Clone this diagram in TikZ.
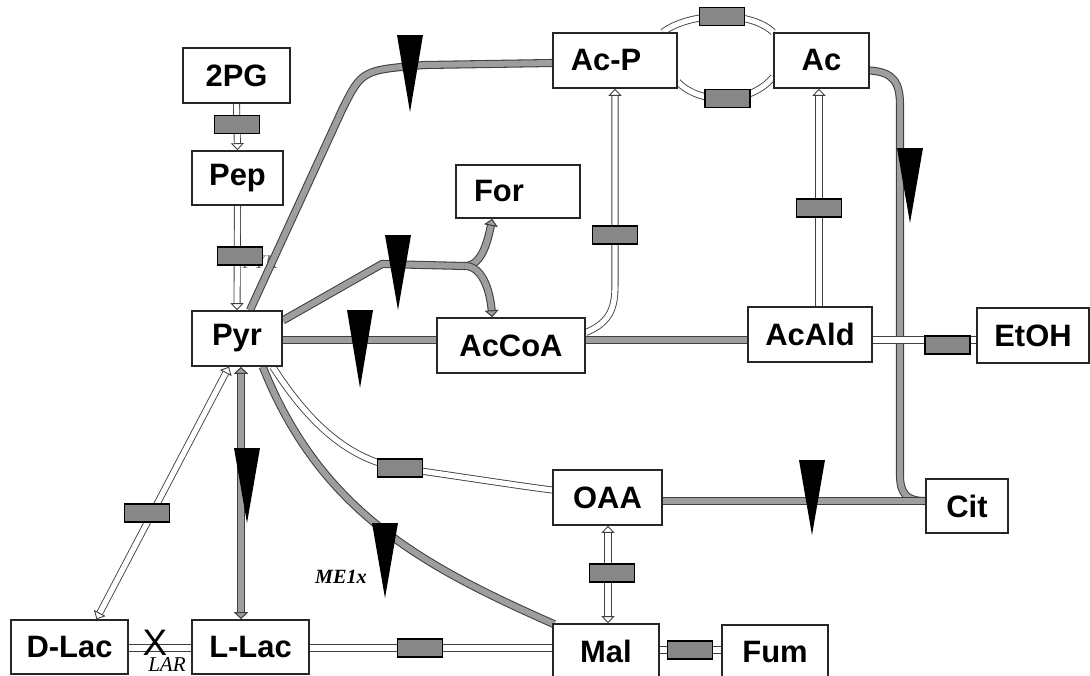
\documentclass[tikz,border=0pt]{standalone}
\usepackage{fontspec}
\setmainfont{Liberation Serif}
\setsansfont{Liberation Sans}
\usetikzlibrary{arrows.meta,calc}
\pgfdeclarelayer{pipes}
\pgfsetlayers{pipes,main}
\begin{document}
\begin{tikzpicture}[x=0.02cm,y=-0.02cm,
  met/.style={draw=black!85, line width=0.9pt, fill=white, inner sep=0pt,
    font=\sffamily\bfseries\fontsize{17.6}{20}\selectfont},
  gpipe/.style={draw=black!75, line width=0.6pt, double=black!38, double distance=3.4pt},
  wpipe/.style={draw=black!75, line width=0.5pt, double=white, double distance=3pt},
  enz/.style={draw=black, line width=0.8pt, fill=black!47, minimum width=0.9cm,
    minimum height=0.36cm, inner sep=0pt},
  wtip/.style={-{Triangle[length=4pt,width=7.5pt,fill=white,line width=0.5pt]}},
  wtips/.style={{Triangle[length=4pt,width=7.5pt,fill=white,line width=0.5pt]}-{Triangle[length=4pt,width=7.5pt,fill=white,line width=0.5pt]}},
  gtip/.style={-{Triangle[length=4pt,width=8pt,fill=black!38,line width=0.6pt]}},
  gtips/.style={{Triangle[length=4pt,width=8pt,fill=black!38,line width=0.6pt]}-{Triangle[length=4pt,width=8pt,fill=black!38,line width=0.6pt]}},
  flux/.pic={\fill[black] (-13,0) -- (13,0) -- (0,#1) -- cycle;},
  lbl/.style={inner sep=0pt, font=\fontsize{12}{13}\selectfont\itshape}
]
\useasboundingbox (0,0) rectangle (1090,676);

% metabolites
\node[met, minimum width=2.14cm, minimum height=1.1cm] (2PG)   at (236.5,75.5) {2PG};
\node[met, minimum width=1.82cm, minimum height=1.08cm] (Pep)  at (237.5,178) {Pep};
\node[met, minimum width=1.80cm, minimum height=1.1cm] (Pyr)   at (237,338.5) {Pyr};
\node[met, minimum width=2.48cm, minimum height=1.06cm] (For)  at (518,191.5) {For\kern0.76cm};
\node[met, minimum width=2.96cm, minimum height=1.1cm] (AcCoA) at (511,345.5) {AcCoA};
\node[met, minimum width=2.48cm, minimum height=1.1cm] (AcP)   at (615,60.5) {Ac-P\kern0.36cm};
\node[met, minimum width=1.90cm, minimum height=1.1cm] (Ac)    at (821.5,60.5) {Ac};
\node[met, minimum width=2.48cm, minimum height=1.1cm] (AcAld) at (810,334.5) {AcAld};
\node[met, minimum width=2.24cm, minimum height=1.1cm] (EtOH)  at (1033,335.5) {EtOH};
\node[met, minimum width=2.18cm, minimum height=1.1cm] (OAA)   at (607.5,497.5) {OAA};
\node[met, minimum width=1.64cm, minimum height=1.08cm] (Cit)  at (967,506) {Cit};
\node[met, minimum width=2.12cm, minimum height=1.1cm] (Mal)   at (606,651.5) {Mal};
\node[met, minimum width=2.12cm, minimum height=1.1cm] (Fum)   at (775,652.5) {Fum};
\node[met, minimum width=2.34cm, minimum height=1.08cm] (DLac) at (69.5,647) {D-Lac};
\node[met, minimum width=2.34cm, minimum height=1.08cm] (LLac) at (250.5,647) {L-Lac};

\begin{pgfonlayer}{pipes}
% enzyme label partly hidden under its box
\node[font=\fontsize{11}{12}\selectfont\itshape, text=black!55] (pyk) at (260,262) {PYK};

% fluxes drawn as grey pipes
\draw[gpipe] ($(Pyr.north)+(13,0)$) -- (342,110) .. controls (362,70) .. (425,65) -- (AcP.west |- 0,63);
\draw[gpipe] ($(Pyr.east)+(0,-18)$) -- (382,264) -- (465,266) coordinate (fork);
\draw[gpipe, gtip] (fork) .. controls (482,266) and (488,240) .. ($(For.south west)+(37,0)$);
\draw[gpipe, gtip] (fork) .. controls (482,266) and (490,290) .. ($(AcCoA.north west)+(56,0)$);
\draw[gpipe] (Pyr.east |- 0,340) -- (AcCoA.west |- 0,340);
\draw[gpipe] (AcCoA.east |- 0,340) -- (AcAld.west |- 0,340);
\draw[gpipe] ($(Ac.east)+(0,10)$) .. controls (893,72) and (900,82) .. (900,105)
  -- (900,475) .. controls (900,495) and (908,501) .. (Cit.west |- 0,501);
\draw[gpipe] (OAA.east |- 0,501) -- (Cit.west |- 0,501);
\draw[gpipe, gtips] (Pyr.south -| 241,0) -- (LLac.north -| 241,0);
\draw[gpipe] ($(Pyr.south east)+(-20,0)$) .. controls (320,510) and (420,565) .. ($(Mal.north west)+(2,1)$);

% reactions drawn as white pipes with enzyme boxes
\draw[wpipe, wtip] (2PG.south) -- node[enz, pos=0.44] (eno) {} (Pep.north);
\draw[wpipe, wtip] (Pep.south) -- node[enz, pos=0.48, xshift=0.06cm] (pyk2) {} (Pyr.north);
\draw[wpipe] ($(AcP.north east)+(-15,0)$) .. controls (690,12) and (750,10) .. node[enz, pos=0.52] (ackA) {} (Ac.north west);
\draw[wpipe] (AcP.east |- 0,82) .. controls (700,105) and (750,105) .. node[enz, pos=0.52] (pta) {} (Ac.west |- 0,77);
\draw[wpipe, wtip] ($(AcCoA.east)+(0,-13)$) .. controls (612,322) and (615,305) .. (615,285)
  -- node[enz, pos=0.254] (eutD) {} (AcP.south);
\draw[wpipe, wtip] (AcAld.north -| 819,0) -- node[enz, pos=0.452] (ald) {} (Ac.south -| 819,0);
\draw[wpipe] (AcAld.east |- 0,340) -- node[enz, pos=0.724, yshift=-0.1cm] (adh) {} (EtOH.west |- 0,340);
\draw[wpipe] ($(Pyr.south east)+(-10,0)$) .. controls (310,425) and (350,460) .. (400,468)
  node[enz] (pyc) {} .. controls (470,478) and (520,486) .. (OAA.west |- 0,490);
\draw[wpipe, wtips] ($(Pyr.south)+(-8,0)$) -- node[enz, pos=0.579, xshift=-0.1cm] (ldhD) {} ($(DLac.north)+(27,0)$);
\draw[wpipe] (DLac.east |- 0,648) -- (LLac.west |- 0,648);
\draw[wpipe] (LLac.east |- 0,648) -- node[enz, pos=0.455] (mle) {} (Mal.west |- 0,648);
\draw[wpipe, wtips] (OAA.south -| 608,0) -- node[enz, pos=0.485, xshift=0.08cm] (mdh) {} (Mal.north -| 608,0);
\draw[wpipe] (Mal.east |- 0,650) -- node[enz, pos=0.49] (fum) {} (Fum.west |- 0,650);
\end{pgfonlayer}

% flux direction markers
\pic at (410,35) {flux=77};
\pic at (398,235) {flux=75};
\pic at (360,310) {flux=78};
\pic at (247,448) {flux=75};
\pic at (385,523) {flux=75};
\pic at (910,148) {flux=75};
\pic at (812,460) {flux=75};

% labels
\node[lbl, font=\fontsize{11.5}{13}\selectfont\bfseries\itshape] (me) at (341,577) {ME1x};
\node[lbl] (lar) at (167,665) {LAR};
\node[inner sep=0pt, font=\sffamily\fontsize{21}{22}\selectfont] (cross) at (155,643) {X};
\end{tikzpicture}
\end{document}
